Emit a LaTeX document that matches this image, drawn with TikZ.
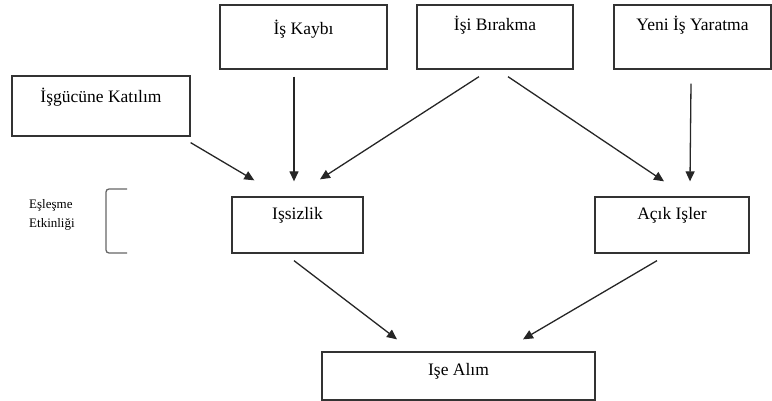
\documentclass[tikz,border=0pt]{standalone}
\usepackage{fontspec}
\setmainfont{Liberation Serif}
\usetikzlibrary{arrows.meta,calc}

\begin{document}
\begin{tikzpicture}[x=1pt,y=-1pt,>={Triangle[length=10pt,width=9pt]},
    box/.style n args={3}{draw=black!80,line width=1.3pt,inner sep=0pt,
      font=\fontsize{17.5}{20}\selectfont,minimum width=#1,text height=#2,text depth=#3},
    flow/.style={->,draw=black!85,line width=1.3pt}]

    \useasboundingbox (0,0) rectangle (772,401);

    \node[box={167pt}{30pt}{34pt}] (kayip)    at (303.5,37) {İş Kaybı};
    \node[box={178pt}{27pt}{33pt}] (katilim)  at (101,106)  {İşgücüne Katılım};
    \node[box={156pt}{26pt}{38pt}] (birakma)  at (495,37)   {İşi Bırakma};
    \node[box={157pt}{26pt}{38pt}] (yaratma)  at (692.5,37) {Yeni İş Yaratma};
    \node[box={131pt}{23pt}{33pt}] (issizlik) at (297.5,225) {Işsizlik};
    \node[box={154pt}{23pt}{33pt}] (acik)     at (672,225)  {Açık Işler};
    \node[box={273pt}{23pt}{25pt}] (alim)     at (458.5,376) {Işe Alım};

    \node[anchor=north west,align=left,inner sep=0pt,
          font=\fontsize{13}{19}\selectfont] (eslesme) at (29,199) {Eşleşme\\Etkinliği};
    \draw[black!60,line width=1.3pt,rounded corners=3pt]
      (127,189) -- (106,189) -- (106,253) -- (127,253);

    \draw[flow] ($(katilim.south east)+(0,6)$) -- ($(issizlik.north west)+(23,-16)$);
    \draw[flow] ($(kayip.south)+(-9.5,7)$)     -- ($(issizlik.north)+(-3.5,-15)$);
    \draw[flow] ($(birakma.south)+(-16,7)$)    -- ($(issizlik.north)+(22.5,-17)$);
    \draw[flow] ($(birakma.south)+(13,7)$)     -- ($(acik.north)+(-8,-15)$);
    \draw[flow] ($(yaratma.south)+(-1.5,14)$)  -- ($(acik.north)+(18,-15)$);
    \draw[flow] ($(issizlik.south)+(-3.5,7)$)  -- ($(alim.north)+(-61.5,-12)$);
    \draw[flow] ($(acik.south)+(-15,7)$)       -- ($(alim.north)+(64.5,-12)$);

\end{tikzpicture}
\end{document}
